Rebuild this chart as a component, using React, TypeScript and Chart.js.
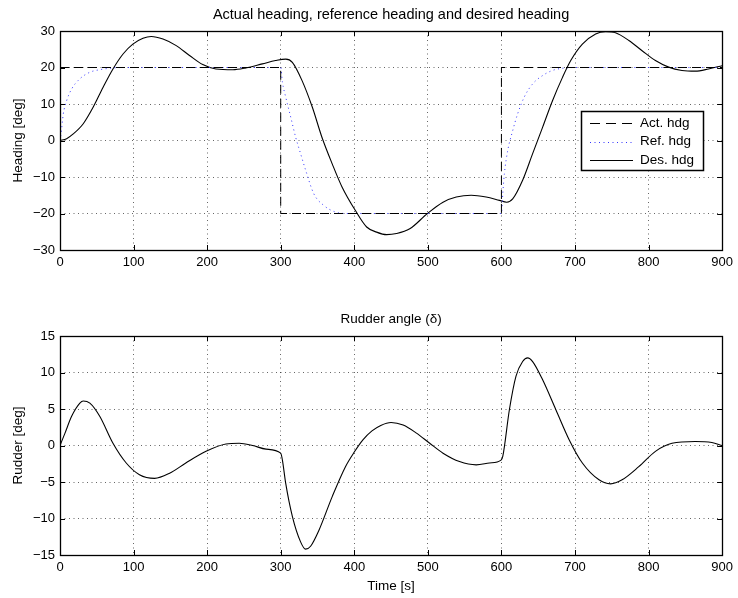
import React, { useEffect, useRef } from "react";
import { Chart, registerables } from "chart.js";

Chart.register(...registerables);

// ---------------- data ----------------
const timeTicks = [0, 100, 200, 300, 400, 500, 600, 700, 800, 900];
const headingTicks = [-30, -20, -10, 0, 10, 20, 30];
const rudderTicks = [-15, -10, -5, 0, 5, 10, 15];

const headingTitle = "Actual heading, reference heading and desired heading";
const rudderTitle = "Rudder angle (\u03b4)";
const headingAxisLabel = "Heading [deg]";
const rudderAxisLabel = "Rudder [deg]";
const timeAxisLabel = "Time [s]";
const seriesLabels = ["Act. hdg", "Ref. hdg", "Des. hdg"];

// Actual heading (step commands)
const actTime = [0, 300, 300, 600, 600, 900];
const actHeading = [20, 20, -20, -20, 20, 20];

// Reference heading (blue dotted)
const refTime = [
  0, 1.4, 4.5, 9, 15.8, 27, 40.6, 54, 68, 85, 300, 302.3, 306.8, 313.6, 320.3,
  327, 334, 345, 358.6, 374.4, 390, 600, 601.8, 604, 608.6, 615.3, 622, 631,
  642.4, 656, 669.5, 683, 700, 900,
];
const refHeading = [
  0, 1.8, 7.3, 10.9, 14.1, 16.9, 18.7, 19.4, 19.8, 20, 20, 16, 11.9, 6.4, 0.9,
  -3.6, -8.2, -14.6, -17.8, -19.6, -20, -20, -14.6, -9.1, -2.7, 2.7, 7.3, 11.9,
  15.5, 17.8, 19.2, 19.8, 20, 20,
];

// Desired heading (solid)
const desTime = [
  0, 9, 18, 31.6, 45, 58.6, 72, 85.7, 99, 112.8, 124, 140, 158, 176, 194, 212,
  235, 252.6, 275, 293, 307, 315.8, 329, 343, 356, 370, 383.5, 401.5, 416.8,
  430.3, 443.9, 457.4, 475.4, 499.4, 520.6, 538.6, 558.9, 579.2, 597.3, 607.2,
  615.3, 628.8, 642.4, 655.9, 669.4, 683, 694.2, 710, 728, 741.6, 755, 773.2,
  791.2, 809.3, 827.3, 845.4, 863.4, 881.5, 900,
];
const desHeading = [
  0, 0.5, 1.8, 4.6, 9.1, 14.6, 19.6, 23.7, 26.4, 28, 28.5, 27.8, 26, 23.3, 20.8,
  19.6, 19.4, 19.9, 21, 21.9, 22.3, 21.4, 16.4, 9.1, 0.9, -6.4, -12.8, -19.2,
  -23.7, -25.1, -25.8, -25.5, -24.2, -20, -16.9, -15.5, -15, -15.5, -16.4, -16.9,
  -16, -10.9, -3.6, 3.6, 10.9, 17.3, 21.9, 26.4, 29.2, 29.8, 29.5, 27.4, 24.6,
  21.9, 20.1, 19.2, 19, 19.6, 20.5,
];

// Rudder angle
const rudTime = [
  0, 6.8, 15.8, 27, 31.6, 40.6, 54, 72, 90, 108, 128.6, 149, 171, 198.5, 225.6,
  243.6, 261.7, 280, 300, 302.3, 306.8, 315.8, 327, 333.8, 340.6, 352, 370,
  388, 400, 412, 424, 436, 450, 466.4, 484.5, 502.5, 520.6, 543, 565.7, 583.7,
  599.5, 601.8, 610.8, 619.8, 628.8, 635.6, 642.4, 656, 674, 692, 710, 732.6,
  748.4, 764, 786.7, 809.3, 831.8, 863.4, 886, 900,
];
const rudAngle = [
  0, 1.7, 4, 5.8, 6.1, 5.8, 4, 0.3, -2.4, -4, -4.5, -3.8, -2.4, -0.8, 0.2, 0.3,
  0, -0.5, -1.05, -2, -5.2, -9.7, -13.2, -14.2, -13.8, -11.6, -7, -2.9, -0.9,
  0.8, 2.0, 2.75, 3.15, 2.8, 1.7, 0.3, -1.05, -2.2, -2.65, -2.4, -2, -1.5, 4.9,
  9.5, 11.5, 12, 11.5, 9, 4.9, 0.8, -2.4, -4.7, -5.25, -4.7, -2.9, -0.8, 0.3,
  0.55, 0.4, 0,
];

// ---------------- helpers ----------------
const FONT = "'Liberation Sans', Arial, Helvetica, sans-serif";
const FONT_SIZE = 13;
const LABEL_SIZE = 13.5;

const pts = (xs: number[], ys: number[]) => xs.map((x, i) => ({ x, y: ys[i] }));
const fmt = (v: number) => (v < 0 ? "\u2212" + Math.abs(v) : String(v));

const framePlugin = {
  id: "frame",
  afterDraw(chart: any) {
    const { ctx, chartArea } = chart;
    const { left, right, top, bottom } = chartArea;
    const xs = chart.scales.x;
    const ys = chart.scales.y;
    ctx.save();
    ctx.strokeStyle = "#000";
    ctx.lineWidth = 1;
    ctx.setLineDash([]);
    const tl = 5;
    ctx.beginPath();
    xs.ticks.forEach((t: any) => {
      const px = Math.round(xs.getPixelForValue(t.value)) + 0.5;
      ctx.moveTo(px, bottom);
      ctx.lineTo(px, bottom - tl);
      ctx.moveTo(px, top);
      ctx.lineTo(px, top + tl);
    });
    ys.ticks.forEach((t: any) => {
      const py = Math.round(ys.getPixelForValue(t.value)) + 0.5;
      ctx.moveTo(left, py);
      ctx.lineTo(left + tl, py);
      ctx.moveTo(right, py);
      ctx.lineTo(right - tl, py);
    });
    ctx.stroke();
    ctx.lineWidth = 1.3;
    ctx.strokeRect(Math.round(left) + 0.5, Math.round(top) + 0.5, Math.round(right - left), Math.round(bottom - top));

    const lg = chart.options.plugins.boxLegend;
    if (lg && lg.display) {
      ctx.fillStyle = "#fff";
      ctx.fillRect(lg.x, lg.y, lg.w, lg.h);
      ctx.lineWidth = 1.5;
      ctx.strokeStyle = "#000";
      ctx.strokeRect(lg.x + 0.5, lg.y + 0.5, lg.w, lg.h);
      ctx.font = `${LABEL_SIZE}px ${FONT}`;
      ctx.textBaseline = "middle";
      ctx.textAlign = "left";
      chart.data.datasets.forEach((ds: any, i: number) => {
        const y = lg.y + lg.rowStart + i * lg.rowGap;
        ctx.save();
        ctx.strokeStyle = ds.borderColor;
        ctx.lineWidth = ds.borderWidth;
        ctx.setLineDash(ds.legendDash || ds.borderDash || []);
        ctx.beginPath();
        ctx.moveTo(lg.x + lg.lineX0, Math.round(y) + 0.5);
        ctx.lineTo(lg.x + lg.lineX1, Math.round(y) + 0.5);
        ctx.stroke();
        ctx.restore();
        ctx.fillStyle = "#000";
        ctx.fillText(ds.label, lg.x + lg.textX, y);
      });
    }
    ctx.restore();
  },
};

function makeScales(yTicks: number[], yMin: number, yMax: number, yLabel: string, xLabel: string | null, xHeight: number) {
  const gridCommon = {
    color: "rgba(0,0,0,0.6)",
    lineWidth: 1,
    drawTicks: false,
  };
  return {
    x: {
      type: "linear",
      min: 0,
      max: 900,
      afterBuildTicks: (s: any) => {
        s.ticks = timeTicks.map((v) => ({ value: v }));
      },
      afterFit: (s: any) => {
        s.height = xHeight;
      },
      grid: gridCommon,
      border: { display: false, dash: [1, 3.5] },
      ticks: {
        color: "#000",
        padding: 5,
        maxRotation: 0,
        autoSkip: false,
        font: { family: FONT, size: FONT_SIZE },
        callback: (v: any) => fmt(Number(v)),
      },
      title: xLabel
        ? {
            display: true,
            text: xLabel,
            color: "#000",
            font: { family: FONT, size: LABEL_SIZE },
            padding: { top: 0, bottom: 3.4 },
          }
        : { display: false },
    },
    y: {
      type: "linear",
      min: yMin,
      max: yMax,
      afterBuildTicks: (s: any) => {
        s.ticks = yTicks.map((v) => ({ value: v }));
      },
      afterFit: (s: any) => {
        s.width = 60;
      },
      grid: gridCommon,
      border: { display: false, dash: [1, 3.5] },
      ticks: {
        color: "#000",
        padding: 5,
        autoSkip: false,
        font: { family: FONT, size: FONT_SIZE },
        callback: (v: any) => fmt(Number(v)),
      },
      title: {
        display: true,
        text: yLabel,
        color: "#000",
        font: { family: FONT, size: LABEL_SIZE },
        padding: { top: 9.9, bottom: 0 },
      },
    },
  };
}

function HeadingChart() {
  const ref = useRef<HTMLCanvasElement>(null);
  useEffect(() => {
    const chart = new Chart(ref.current as HTMLCanvasElement, {
      type: "line",
      data: {
        datasets: [
          {
            label: seriesLabels[0],
            data: pts(actTime, actHeading),
            borderColor: "#000",
            borderWidth: 1,
            borderDash: [9, 5],
            legendDash: [10, 6],
            pointRadius: 0,
            tension: 0,
          } as any,
          {
            label: seriesLabels[1],
            data: pts(refTime, refHeading),
            borderColor: "#3333ff",
            borderWidth: 1,
            borderDash: [1, 3.5],
            pointRadius: 0,
            cubicInterpolationMode: "monotone",
          },
          {
            label: seriesLabels[2],
            data: pts(desTime, desHeading),
            borderColor: "#000",
            borderWidth: 1.1,
            pointRadius: 0,
            cubicInterpolationMode: "monotone",
          },
        ],
      },
      options: {
        responsive: false,
        animation: false,
        parsing: false as any,
        normalized: true,
        layout: { padding: { left: 0, right: 13, top: 0, bottom: 0 } },
        scales: makeScales(headingTicks, -30, 30, headingAxisLabel, null, 50) as any,
        plugins: {
          legend: { display: false },
          tooltip: { enabled: false },
          title: {
            display: true,
            text: headingTitle,
            color: "#000",
            fullSize: false,
            font: { family: FONT, size: 14.5, weight: "normal" },
            padding: { top: 5.8, bottom: 7.8 },
          },
          boxLegend: {
            display: true,
            x: 581,
            y: 111,
            w: 122,
            h: 59,
            rowStart: 12,
            rowGap: 18.5,
            lineX0: 9,
            lineX1: 52,
            textX: 59,
          },
        } as any,
      },
      plugins: [framePlugin],
    });
    return () => chart.destroy();
  }, []);
  return <canvas ref={ref} width={738} height={300} style={{ display: "block" }} />;
}

function RudderChart() {
  const ref = useRef<HTMLCanvasElement>(null);
  useEffect(() => {
    const chart = new Chart(ref.current as HTMLCanvasElement, {
      type: "line",
      data: {
        datasets: [
          {
            label: "Rudder",
            data: pts(rudTime, rudAngle),
            borderColor: "#000",
            borderWidth: 1.1,
            pointRadius: 0,
            cubicInterpolationMode: "monotone",
          },
        ],
      },
      options: {
        responsive: false,
        animation: false,
        parsing: false as any,
        layout: { padding: { left: 0, right: 13, top: 0, bottom: 0 } },
        scales: makeScales(rudderTicks, -15, 15, rudderAxisLabel, timeAxisLabel, 43) as any,
        plugins: {
          legend: { display: false },
          tooltip: { enabled: false },
          title: {
            display: true,
            text: rudderTitle,
            color: "#000",
            fullSize: false,
            font: { family: FONT, size: 13.5, weight: "normal" },
            padding: { top: 10.9, bottom: 8.9 },
          },
        } as any,
      },
      plugins: [framePlugin],
    });
    return () => chart.destroy();
  }, []);
  return <canvas ref={ref} width={738} height={298} style={{ display: "block" }} />;
}

export default function App() {
  return (
    <div
      style={{
        position: "fixed",
        left: 0,
        top: 0,
        width: 738,
        height: 598,
        background: "#fff",
        overflow: "hidden",
      }}
    >
      <HeadingChart />
      <RudderChart />
    </div>
  );
}
